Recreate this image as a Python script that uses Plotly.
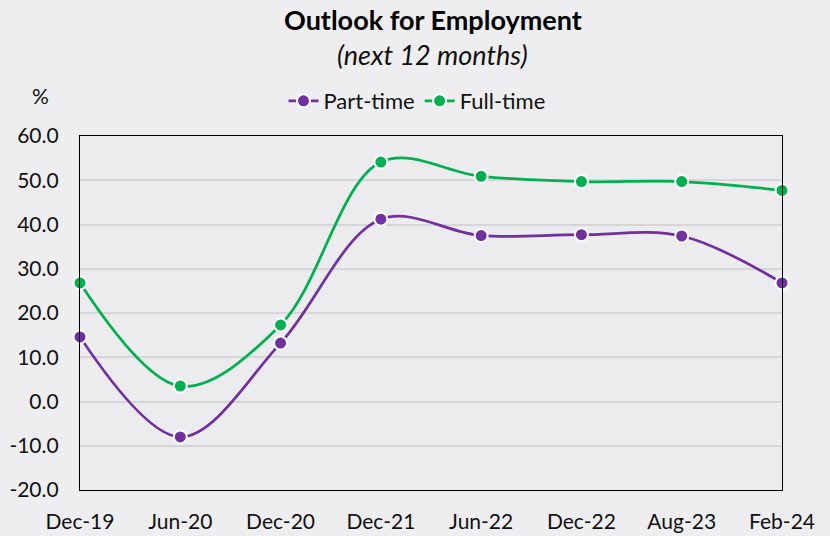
import plotly.graph_objects as go

categories = ["Dec-19", "Jun-20", "Dec-20", "Dec-21", "Jun-22", "Dec-22", "Aug-23", "Feb-24"]
part_time = [14.6, -8.0, 13.2, 41.2, 37.5, 37.7, 37.4, 26.8]
full_time = [26.8, 3.5, 17.3, 54.1, 50.9, 49.7, 49.7, 47.7]
y_ticks = [-20, -10, 0, 10, 20, 30, 40, 50, 60]
y_tick_labels = ["-20.0", "-10.0", "0.0", "10.0", "20.0", "30.0", "40.0", "50.0", "60.0"]

FONT = "Lato, 'Open Sans', sans-serif"
PURPLE = "#7030A0"
GREEN = "#00B050"
BG = "#eeeef0"

fig = go.Figure()
for name, vals, col in [("Part-time", part_time, PURPLE), ("Full-time", full_time, GREEN)]:
    fig.add_trace(go.Scatter(
        x=categories, y=vals, name=name, mode="lines+markers",
        line=dict(color=col, width=2.75, shape="spline", smoothing=1.0),
        marker=dict(color=col, size=13, line=dict(color="white", width=2)),
        cliponaxis=False,
    ))

L, R, T, B = 80, 48, 136, 46
W = 830 - L - R
H = 536 - T - B


def px(x):
    return (x - L) / W


def py(y):
    return (536 - B - y) / H


fig.update_layout(
    width=830, height=536,
    margin=dict(l=L, r=R, t=T, b=B, autoexpand=False),
    paper_bgcolor=BG,
    plot_bgcolor="#ececee",
    font=dict(family=FONT, size=21, color="#111111"),
    showlegend=True,
    legend=dict(orientation="h", x=px(417), xanchor="center", y=py(101), yanchor="middle",
                font=dict(size=22, family=FONT, color="#111"), bgcolor="rgba(0,0,0,0)",
                traceorder="normal"),
    annotations=[
        dict(text="<b>Outlook for Employment</b>", x=px(433), y=py(20), xref="paper", yref="paper",
             xanchor="center", yanchor="middle", showarrow=False,
             font=dict(size=27, family=FONT, color="#000")),
        dict(text="<i>(next 12 months)</i>", x=px(433), y=py(55), xref="paper", yref="paper",
             xanchor="center", yanchor="middle", showarrow=False,
             font=dict(size=27, family=FONT, color="#111")),
        dict(text="%", x=px(40), y=py(95), xref="paper", yref="paper",
             xanchor="center", yanchor="middle", showarrow=False,
             font=dict(size=21, family=FONT, color="#111")),
    ],
)

fig.update_xaxes(type="category", range=[0, 7], showgrid=False, showline=True, linecolor="#000",
                 linewidth=1.2, mirror=True, ticks="", ticklabelstandoff=13, automargin=False,
                 tickfont=dict(size=21, family=FONT, color="#111"))
fig.update_yaxes(range=[-20, 60], tickvals=y_ticks, ticktext=y_tick_labels, showgrid=True,
                 gridcolor="#d6d6d8", gridwidth=1.5, zeroline=False, showline=True, linecolor="#000",
                 linewidth=1.2, mirror=True, ticks="", ticklabelstandoff=16, automargin=False,
                 tickfont=dict(size=21, family=FONT, color="#111"))

fig.write_html("out.html", config={"displayModeBar": False},
               post_script="document.body.style.margin='0';document.body.style.background='%s';" % BG)
